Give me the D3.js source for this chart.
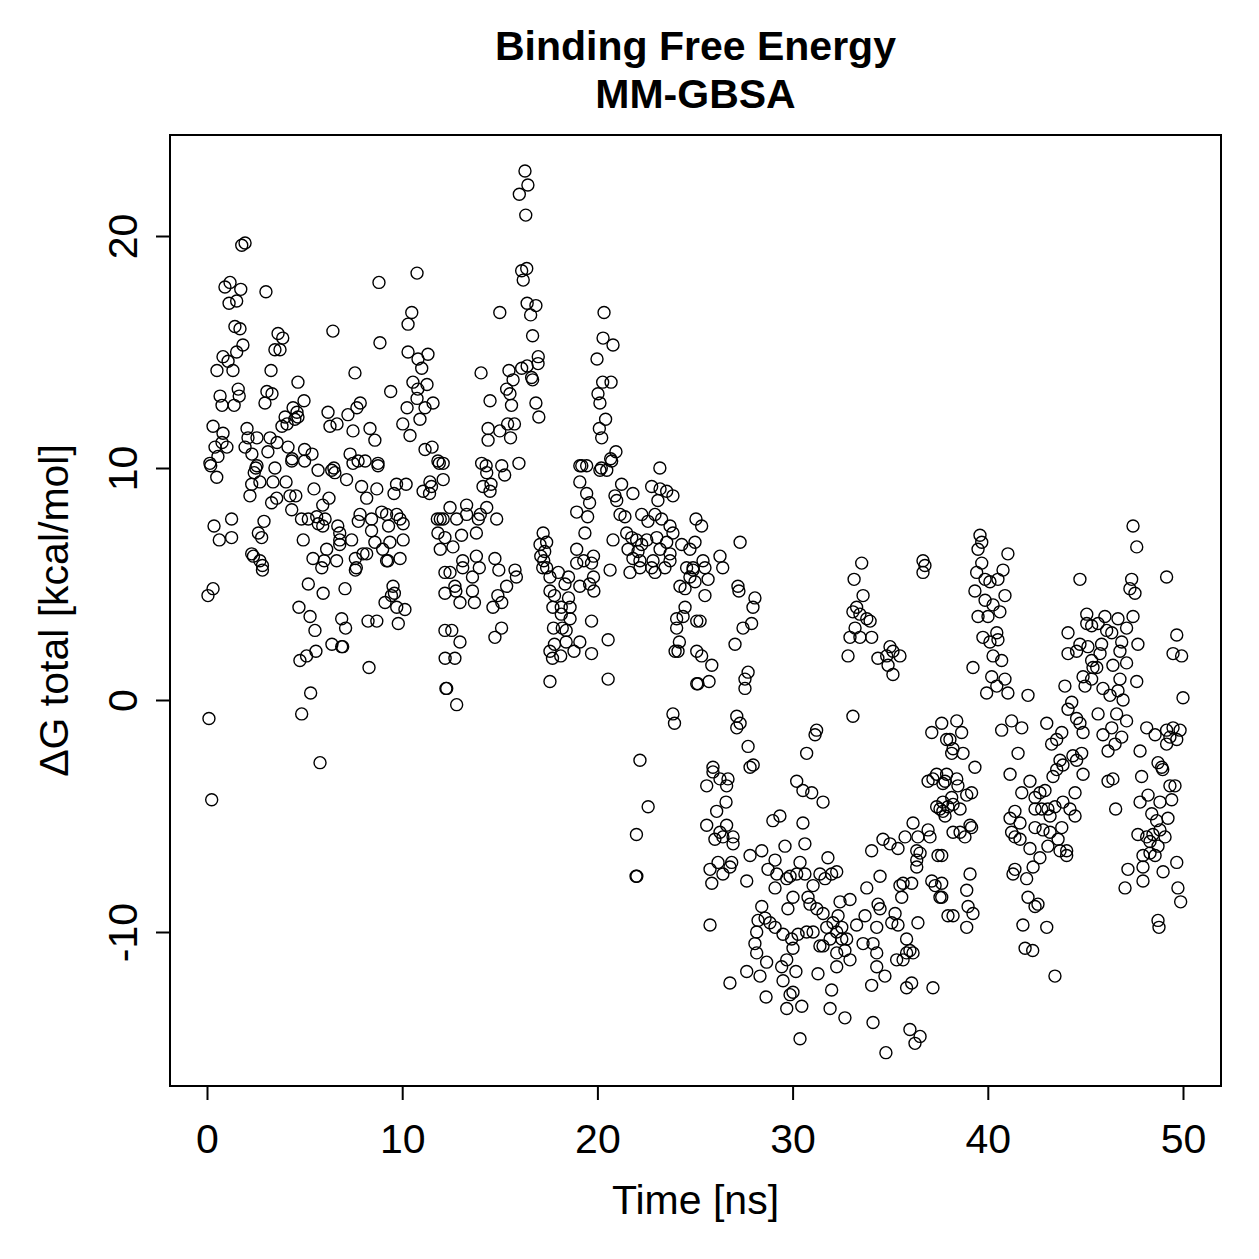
<!DOCTYPE html>
<html>
<head>
<meta charset="utf-8">
<title>Binding Free Energy MM-GBSA</title>
<style>
  body { margin: 0; background: #fff; }
  text { font-family: "Liberation Sans", Arial, Helvetica, sans-serif; }
</style>
</head>
<body>
<script src="https://d3js.org/d3.v7.min.js"></script>
<script>
// [time (ns), dG total (kcal/mol)] per frame, grouped by time window
var frames0to4 = [[0.05,4.5],[0.1,-0.8],[0.24,-4.3],[0.31,4.8],[0.19,10.1],[0.15,10.2],[0.31,11.8],[0.36,7.5],[0.5,9.6],[0.51,14.2],[0.41,10.9],[0.56,10.5],[0.63,6.9],[0.67,13.1],[0.77,12.7],[0.82,11.5],[0.82,14.8],[0.77,11.1],[0.92,17.8],[1.02,10.9],[1.08,14.6],[1.13,17.1],[1.18,18.0],[1.26,7.8],[1.26,7.0],[1.33,14.2],[1.39,12.7],[1.43,16.1],[1.52,17.2],[1.52,15.0],[1.6,13.4],[1.65,13.1],[1.69,16.0],[1.73,17.7],[1.78,19.6],[1.84,15.3],[1.95,19.7],[1.95,10.9],[2.05,11.7],[2.2,8.8],[2.29,9.3],[2.3,10.6],[2.29,6.3],[2.38,6.2],[2.5,10.0],[2.56,10.1],[2.42,9.8],[2.56,11.3],[2.1,11.3],[2.63,7.2],[2.71,9.4],[2.71,6.0],[2.8,7.0],[2.84,5.8],[2.84,5.6],[2.92,7.7],[2.97,12.8],[3.02,17.6],[3.07,13.3],[3.12,10.7],[3.23,11.3],[3.28,14.2],[3.31,8.5],[3.33,13.2],[3.38,9.4],[3.48,10.0],[3.48,15.1],[3.57,8.7],[3.59,11.1],[3.64,15.8],[3.74,15.1],[3.84,11.8],[3.88,15.6],[4.0,12.2],[4.05,9.4],[4.1,11.9]];
var frames4to8 = [[4.15,10.9],[4.25,8.8],[4.34,10.3],[4.34,8.2],[4.36,10.4],[4.41,12.6],[4.5,12.1],[4.55,8.8],[4.61,12.4],[4.66,13.7],[4.66,12.2],[4.71,4.0],[4.76,1.7],[4.84,7.8],[4.85,-0.6],[4.93,6.9],[4.97,12.9],[5.0,10.8],[5.0,10.3],[5.1,1.9],[5.19,7.8],[5.19,5.0],[5.28,3.6],[5.31,0.3],[5.38,10.6],[5.43,6.1],[5.48,9.1],[5.53,3.0],[5.58,2.1],[5.62,7.9],[5.69,9.9],[5.7,7.6],[5.79,-2.7],[5.88,5.7],[5.93,8.4],[5.95,4.6],[5.93,7.5],[6.0,6.0],[6.05,7.8],[6.13,6.5],[6.2,12.4],[6.25,8.7],[6.3,11.8],[6.39,9.9],[6.4,2.4],[6.45,15.9],[6.5,10.0],[6.55,9.8],[6.64,6.0],[6.66,11.9],[6.7,7.5],[6.8,7.2],[6.8,6.9],[6.8,6.7],[6.9,3.5],[6.9,2.3],[6.95,2.3],[7.07,4.8],[7.1,3.1],[7.15,9.5],[7.22,12.3],[7.33,10.6],[7.41,6.9],[7.48,11.6],[7.48,10.2],[7.58,14.1],[7.6,6.1],[7.65,5.7],[7.6,5.6],[7.68,12.6],[7.74,10.3],[7.84,8.0],[7.75,7.7],[7.85,12.8],[7.92,9.2]];
var frames8to12 = [[7.99,6.3],[8.1,10.3],[8.18,8.7],[8.18,6.3],[8.25,3.4],[8.3,1.4],[8.35,11.7],[8.43,7.8],[8.43,7.3],[8.6,11.2],[8.6,6.8],[8.7,9.1],[8.7,3.4],[8.76,10.2],[8.76,10.1],[8.81,18.0],[8.86,15.4],[8.95,8.1],[9.0,6.5],[9.12,4.2],[9.2,8.0],[9.27,6.0],[9.3,7.5],[9.2,6.0],[9.37,6.8],[9.41,13.3],[9.53,4.9],[9.58,8.9],[9.6,4.6],[9.45,4.5],[9.71,9.3],[9.72,8.0],[9.72,4.0],[9.8,3.3],[9.89,6.1],[9.89,7.8],[10.03,11.9],[10.05,7.6],[10.05,6.9],[10.14,3.9],[10.2,9.3],[10.25,12.6],[10.3,16.2],[10.3,15.0],[10.4,11.4],[10.49,16.7],[10.55,13.7],[10.76,18.4],[10.81,14.7],[10.8,13.4],[10.76,13.0],[10.91,12.1],[11.0,14.3],[11.07,9.0],[11.17,10.8],[11.27,13.6],[11.32,14.9],[11.17,12.6],[11.42,9.4],[11.5,9.2],[11.4,8.9],[11.53,10.9],[11.58,12.8],[11.8,7.8],[11.83,10.3],[11.83,7.2],[11.9,10.2],[11.95,7.8],[11.95,6.5]];
var frames12to16 = [[12.1,9.5],[12.1,10.2],[12.1,7.8],[12.19,7.0],[12.19,5.5],[12.19,4.6],[12.19,3.0],[12.2,1.8],[12.24,0.5],[12.28,0.5],[12.45,8.3],[12.45,5.5],[12.54,3.0],[12.6,6.6],[12.7,4.9],[12.7,1.8],[12.75,4.7],[12.79,7.8],[12.79,-0.2],[12.96,4.2],[12.96,2.5],[13.04,7.1],[13.1,6.0],[13.1,5.7],[13.3,8.4],[13.3,8.0],[13.6,5.3],[13.6,4.7],[13.7,4.2],[13.8,7.2],[13.8,6.2],[13.9,7.8],[13.95,5.7],[14.0,8.0],[14.04,14.1],[14.07,10.2],[14.14,9.2],[14.33,9.8],[14.3,10.1],[14.33,8.3],[14.4,11.7],[14.4,11.2],[14.5,12.9],[14.55,9.3],[14.5,9.0],[14.65,4.0],[14.75,6.1],[14.75,2.7],[14.84,7.8],[14.9,4.5],[14.95,5.6],[15.0,16.7],[15.0,11.6],[15.09,3.1],[15.1,10.1],[15.1,4.2],[15.25,9.7],[15.35,13.4],[15.35,4.9],[15.4,11.9],[15.47,14.2],[15.52,13.2],[15.55,11.3],[15.6,12.7],[15.68,13.8],[15.75,11.9],[15.78,5.6],[15.85,5.3],[15.98,10.2],[16.0,21.8]];
var frames16to20 = [[16.12,18.5],[16.12,14.3],[16.2,18.1],[16.29,22.8],[16.33,20.9],[16.38,18.6],[16.4,17.1],[16.44,22.2],[16.4,14.4],[16.58,16.6],[16.63,13.9],[16.68,13.8],[16.68,15.7],[16.85,17.0],[16.85,12.8],[16.96,14.5],[16.97,14.8],[17.0,12.2],[17.06,6.7],[17.1,6.2],[17.2,5.7],[17.22,7.2],[17.25,6.0],[17.3,6.4],[17.4,6.8],[17.4,5.7],[17.57,5.3],[17.57,4.7],[17.57,2.1],[17.57,0.8],[17.7,1.8],[17.72,4.0],[17.75,3.1],[17.8,4.5],[17.8,2.4],[18.0,5.5],[18.12,1.9],[18.15,4.0],[18.15,3.7],[18.2,3.1],[18.34,5.0],[18.4,3.0],[18.4,2.5],[18.52,5.3],[18.52,4.4],[18.6,4.0],[18.6,3.5],[18.8,2.1],[18.94,8.1],[18.94,6.5],[18.94,5.9],[19.1,10.1],[19.1,9.4],[19.1,4.9],[19.1,2.5],[19.2,10.1],[19.3,6.0],[19.36,7.2],[19.45,8.9],[19.45,10.1],[19.5,7.9],[19.6,8.5],[19.6,5.0],[19.7,5.9],[19.7,3.4],[19.7,2.0],[19.8,6.2],[19.8,5.3],[19.82,4.7],[19.98,14.7],[20.03,13.2],[20.13,12.8],[20.13,9.9],[20.1,11.7]];
var frames20to25 = [[20.22,11.3],[20.27,13.7],[20.29,15.6],[20.34,16.7],[20.42,12.1],[20.2,10.0],[20.48,9.9],[20.73,10.3],[20.55,2.6],[20.55,0.9],[20.65,5.6],[20.68,10.4],[20.7,13.7],[20.8,15.3],[20.8,6.9],[20.9,8.8],[20.95,10.7],[20.99,8.6],[21.16,8.0],[21.24,9.3],[21.41,7.9],[21.5,7.2],[21.57,6.5],[21.67,5.5],[21.76,7.0],[21.82,8.9],[21.82,6.1],[21.98,-7.6],[22.02,-7.6],[22.0,-5.8],[22.01,6.9],[22.08,6.4],[22.18,-2.6],[22.18,6.0],[22.18,5.7],[22.27,8.0],[22.27,6.7],[22.53,6.9],[22.6,-4.6],[22.59,7.7],[22.78,9.2],[22.78,5.7],[22.85,6.0],[22.95,8.0],[22.95,5.5],[23.04,7.0],[23.1,8.6],[23.2,10.0],[23.21,9.1],[23.21,6.5],[23.29,7.8],[23.46,5.7],[23.55,9.0],[23.55,6.8],[23.72,7.5],[23.72,6.3],[23.72,6.0],[23.87,8.8],[23.87,7.2],[23.87,-0.6],[23.95,-1.0],[24.06,3.5],[24.06,3.1],[24.23,4.9],[24.2,2.5],[24.32,6.7],[24.39,3.6],[24.49,4.8],[24.49,4.0],[23.98,2.1],[24.13,2.1],[24.57,5.7],[24.74,6.5],[24.74,5.3],[24.9,5.7],[25.0,6.8]];
var frames25to30 = [[25.05,7.8],[25.34,7.5],[25.09,3.4],[25.09,2.1],[25.09,0.7],[24.9,5.6],[25.0,5.1],[25.26,3.4],[25.34,1.9],[25.41,6.0],[25.51,5.7],[25.51,4.5],[25.67,5.2],[25.86,1.5],[25.15,0.7],[25.72,0.8],[25.77,-9.7],[25.92,-3.1],[25.92,-2.9],[25.6,-3.7],[25.6,-5.4],[25.77,-7.3],[25.86,-7.9],[26.02,-6.0],[26.11,-4.8],[26.18,-7.0],[26.28,-3.4],[26.28,-5.7],[26.43,-5.9],[26.28,6.2],[26.42,5.7],[26.43,-7.5],[26.59,-4.4],[26.62,-3.7],[26.62,-5.4],[26.69,-3.4],[26.79,-12.2],[26.88,-7.0],[26.79,-7.2],[26.95,-5.9],[26.95,-6.2],[27.05,2.4],[27.14,-0.7],[27.14,-1.2],[27.31,-1.0],[27.2,4.9],[27.25,4.7],[27.31,6.8],[27.46,3.1],[27.56,0.5],[27.56,0.9],[27.65,-11.7],[27.65,-7.8],[27.72,1.2],[27.72,-2.0],[27.82,-2.9],[27.82,-6.7],[27.98,-2.8],[27.97,4.0],[27.9,3.3],[28.07,4.4],[28.07,-10.5],[28.16,-10.9],[28.16,-10.0],[28.23,-9.5],[28.42,-6.5],[28.42,-8.9],[28.33,-11.9],[28.59,-9.4],[28.64,-12.8],[28.67,-11.3],[28.74,-7.3],[28.84,-9.6],[28.99,-5.2],[29.1,-9.8],[29.1,-6.9],[29.1,-8.1],[29.19,-7.5],[29.35,-5.0],[29.44,-11.5],[29.51,-12.1],[29.51,-10.1],[29.61,-6.3],[29.7,-7.7],[29.7,-11.2],[29.7,-13.3],[29.76,-9.0],[29.87,-7.6],[29.87,-12.7],[29.95,-10.3]];
var frames30to35 = [[30.02,-8.5],[30.02,-10.7],[30.02,-12.6],[30.17,-11.7],[30.21,-3.5],[30.21,-7.5],[30.28,-10.1],[30.38,-7.0],[30.38,-14.6],[30.47,-13.2],[30.53,-3.9],[30.53,-5.3],[30.63,-6.2],[30.63,-7.5],[30.72,-2.3],[30.72,-10.0],[30.79,-8.5],[30.89,-8.8],[30.98,-4.0],[31.05,-8.0],[31.05,-10.0],[31.15,-1.5],[31.23,-1.3],[31.24,-9.0],[31.3,-11.8],[31.4,-7.5],[31.4,-10.6],[31.56,-4.4],[31.56,-9.2],[31.56,-10.6],[31.66,-7.7],[31.75,-9.8],[31.81,-6.8],[31.92,-10.3],[31.92,-13.3],[32.0,-7.5],[32.0,-12.5],[32.07,-9.6],[32.26,-7.4],[32.26,-10.0],[32.26,-10.9],[32.26,-11.5],[32.33,-9.3],[32.43,-8.7],[32.52,-9.8],[32.52,-10.3],[32.68,-10.8],[32.68,-13.7],[32.77,-10.3],[32.84,1.9],[32.94,2.7],[32.94,-8.6],[32.94,-11.2],[33.09,-0.7],[33.15,5.2],[33.28,4.0],[33.09,3.8],[33.2,3.1],[33.28,-9.7],[33.45,3.7],[33.54,5.9],[33.61,4.5],[33.45,2.7],[33.61,-10.5],[33.71,-9.3],[33.8,3.5],[33.8,-8.1],[33.97,3.4],[34.05,2.7],[34.05,-6.5],[34.05,-12.3],[34.12,-10.5],[34.12,-13.9],[34.31,-9.8],[34.31,-10.9],[34.31,-11.5],[34.37,1.8],[34.38,-8.8],[34.48,-7.6],[34.48,-9.0],[34.63,-6.0],[34.73,-11.9],[34.78,-15.2],[34.82,1.9],[34.89,1.5],[34.99,2.3],[34.99,-6.2]];
var frames35to40 = [[35.08,-9.6],[35.14,2.1],[35.14,1.1],[35.25,-9.2],[35.33,-11.2],[35.4,-6.4],[35.4,-9.7],[35.5,1.9],[35.5,-8.0],[35.59,-8.5],[35.66,-7.9],[35.66,-11.2],[35.76,-5.9],[35.84,-10.3],[35.84,-10.9],[35.84,-12.4],[36.01,-10.8],[36.01,-14.2],[36.1,-7.9],[36.1,-12.2],[36.17,-5.3],[36.17,-10.9],[36.27,-14.8],[36.36,-6.5],[36.36,-6.9],[36.36,-7.2],[36.42,-5.9],[36.42,-9.6],[36.53,-6.6],[36.53,-14.5],[36.68,6.0],[36.78,5.8],[36.68,5.5],[36.94,-3.5],[36.94,-5.6],[37.04,-5.9],[37.13,-1.4],[37.13,-7.8],[37.19,-3.4],[37.19,-12.4],[37.3,-8.0],[37.38,-3.2],[37.38,-4.6],[37.45,-6.7],[37.55,-4.7],[37.55,-8.5],[37.64,-1.0],[37.64,-6.7],[37.64,-7.9],[37.64,-8.5],[37.7,-3.6],[37.7,-4.4],[37.7,-4.8],[37.81,-3.5],[37.81,-5.0],[37.89,-1.7],[37.89,-3.2],[37.96,-4.6],[37.96,-9.3],[38.06,-1.7],[38.15,-2.3],[38.15,-4.2],[38.22,-2.1],[38.22,-4.5],[38.22,-5.7],[38.22,-9.3],[38.41,-0.9],[38.41,-3.4],[38.47,-3.7],[38.58,-4.7],[38.58,-5.7],[38.66,-1.4],[38.73,-2.3],[38.83,-5.9],[38.92,-4.1],[38.92,-8.2],[38.92,-9.8],[38.99,-8.9],[39.09,-5.4],[39.09,-7.5],[39.17,-4.0],[39.17,-5.5],[39.24,-9.2],[39.24,1.4],[39.34,-2.9],[39.34,4.7],[39.43,5.5],[39.5,6.5],[39.5,3.6],[39.6,7.1],[39.69,6.8],[39.69,5.9],[39.75,2.7],[39.86,5.2],[39.86,4.3],[39.94,0.3]];
var frames40to45 = [[40.01,3.6],[40.11,5.1],[40.11,2.5],[40.2,1.0],[40.27,4.1],[40.27,1.9],[40.46,2.9],[40.46,0.6],[40.52,5.2],[40.52,2.6],[40.62,3.8],[40.71,1.7],[40.71,-1.3],[40.78,5.6],[40.88,4.5],[40.88,0.9],[41.03,6.3],[41.03,0.3],[41.14,-3.2],[41.14,-5.1],[41.22,-0.9],[41.22,-5.7],[41.29,-7.5],[41.39,-4.8],[41.39,-5.9],[41.39,-7.3],[41.55,-2.3],[41.65,-5.3],[41.65,-6.0],[41.74,-1.2],[41.74,-4.0],[41.8,-9.7],[41.91,-10.7],[41.99,-7.7],[42.06,0.2],[42.06,-8.5],[42.16,-3.5],[42.16,-6.4],[42.3,-10.8],[42.32,-7.2],[42.42,-4.2],[42.42,-4.7],[42.42,-5.5],[42.42,-8.9],[42.57,-8.8],[42.67,-4.0],[42.67,-6.8],[42.76,-4.7],[42.83,-5.6],[42.93,-3.9],[43.02,-1.0],[43.02,-9.8],[43.08,-4.7],[43.08,-6.3],[43.19,-5.0],[43.19,-5.7],[43.27,-1.9],[43.34,-3.3],[43.44,-4.6],[43.44,-11.9],[43.53,-1.7],[43.53,-3.0],[43.6,-6.0],[43.7,-2.6],[43.7,-6.5],[43.79,-1.4],[43.79,-5.5],[43.85,-2.8],[43.85,-4.4],[43.95,0.6],[44.04,-6.5],[44.04,-6.7],[44.11,2.9],[44.11,2.0],[44.11,-0.4],[44.21,-4.7],[44.3,-0.1],[44.36,-2.4],[44.47,-4.0],[44.47,-5.0],[44.55,2.1],[44.55,-0.8],[44.55,-2.6],[44.72,5.2],[44.72,2.4],[44.72,-1.0],[44.81,-2.3],[44.88,1.0],[44.88,-1.4],[44.88,-3.2],[44.98,0.6]];
var frames45to50 = [[45.07,3.7],[45.07,3.3],[45.13,2.3],[45.32,3.2],[45.32,1.7],[45.32,0.9],[45.39,1.4],[45.58,1.4],[45.65,3.3],[45.65,-0.6],[45.75,2.0],[45.83,2.4],[45.9,0.5],[45.9,-1.5],[46.0,3.6],[46.09,3.0],[46.16,-2.2],[46.16,-3.5],[46.26,0.2],[46.35,2.9],[46.35,-1.2],[46.41,1.5],[46.41,-3.4],[46.52,-1.9],[46.55,-4.7],[46.6,-0.6],[46.67,3.5],[46.67,0.4],[46.77,2.1],[46.77,0.9],[46.86,2.5],[46.86,-1.6],[46.93,0.0],[47.03,-8.1],[47.11,3.1],[47.11,1.6],[47.11,-0.9],[47.18,-7.3],[47.28,4.8],[47.37,5.2],[47.44,7.5],[47.44,3.6],[47.54,4.6],[47.63,6.6],[47.63,0.8],[47.69,2.4],[47.69,-5.8],[47.8,-2.2],[47.8,-4.4],[47.88,-3.3],[47.95,-6.7],[47.95,-7.2],[47.95,-7.8],[48.14,-1.2],[48.14,-5.9],[48.21,-4.1],[48.31,-6.1],[48.31,-6.6],[48.4,-4.9],[48.46,-5.8],[48.57,-1.5],[48.57,-6.7],[48.65,-5.2],[48.72,-2.7],[48.72,-6.3],[48.72,-9.5],[48.77,-9.8],[48.82,-4.4],[48.82,-5.6],[48.91,-2.9],[48.96,-3.0],[48.98,-7.4],[49.08,-5.9],[49.16,5.3],[49.16,-1.3],[49.16,-1.9],[49.23,-5.1],[49.33,-1.6],[49.33,-3.7],[49.42,-4.3],[49.49,2.0],[49.49,-1.2],[49.59,-3.7],[49.68,2.8],[49.68,-1.7],[49.68,-7.0],[49.74,-8.1],[49.85,-1.3],[49.88,-8.7],[49.93,1.9],[50.0,0.1]];

var xTicks = [0, 10, 20, 30, 40, 50];
var yTicks = [-10, 0, 10, 20];
var titleLines = ["Binding Free Energy", "MM-GBSA"];
var xLabel = "Time [ns]";
var yLabel = "\u0394G total [kcal/mol]";

var width = 1259, height = 1259;
var box = { left: 170, right: 1221, top: 135, bottom: 1086 };
var fontSize = 41;

var frames = [].concat(frames0to4, frames4to8, frames8to12, frames12to16, frames16to20,
  frames20to25, frames25to30, frames30to35, frames35to40, frames40to45, frames45to50);

var svg = d3.select("body").append("svg")
  .attr("width", width).attr("height", height);

var x = d3.scaleLinear().domain([0, 50]).range([207, 1183]);
var y = d3.scaleLinear().domain([-10, 20]).range([932, 236]);

// plain hyphen for negatives, like R
var tickFmt = function(d) { return String(d); };

// points
svg.append("g").selectAll("circle")
  .data(frames)
  .join("circle")
  .attr("cx", function(d) { return x(d[0]); })
  .attr("cy", function(d) { return y(d[1]); })
  .attr("r", 6)
  .attr("fill", "none")
  .attr("stroke", "#000")
  .attr("stroke-width", 1.4);

// frame
svg.append("rect")
  .attr("x", box.left).attr("y", box.top)
  .attr("width", box.right - box.left).attr("height", box.bottom - box.top)
  .attr("fill", "none").attr("stroke", "#000").attr("stroke-width", 2);

// x axis
var gx = svg.append("g")
  .attr("transform", "translate(0," + box.bottom + ")")
  .call(d3.axisBottom(x).tickValues(xTicks).tickSize(14).tickFormat(tickFmt));
gx.select(".domain").remove();
gx.selectAll("line").attr("stroke-width", 2);
gx.selectAll("text").attr("y", 67).attr("dy", 0)
  .attr("font-size", fontSize).attr("fill", "#000")
  .attr("font-family", "Liberation Sans, Arial, sans-serif");

// y axis, labels turned like R's default las = 0
var gy = svg.append("g")
  .attr("transform", "translate(" + box.left + ",0)")
  .call(d3.axisLeft(y).tickValues(yTicks).tickSize(14).tickFormat(tickFmt));
gy.select(".domain").remove();
gy.selectAll("line").attr("stroke-width", 2);
gy.selectAll("text")
  .attr("x", 0).attr("y", -33).attr("dy", 0)
  .attr("text-anchor", "middle")
  .attr("transform", "rotate(-90)")
  .attr("font-size", fontSize).attr("fill", "#000")
  .attr("font-family", "Liberation Sans, Arial, sans-serif");

// titles
var cx = (box.left + box.right) / 2;
svg.append("g").selectAll("text")
  .data(titleLines)
  .join("text")
  .attr("x", cx)
  .attr("y", function(d, i) { return 60 + i * 48; })
  .attr("text-anchor", "middle")
  .attr("font-weight", "bold")
  .attr("font-size", fontSize)
  .text(function(d) { return d; });

svg.append("text")
  .attr("x", cx).attr("y", 1214)
  .attr("text-anchor", "middle")
  .attr("font-size", fontSize)
  .text(xLabel);

svg.append("text")
  .attr("transform", "translate(68," + ((box.top + box.bottom) / 2) + ") rotate(-90)")
  .attr("text-anchor", "middle")
  .attr("font-size", fontSize)
  .text(yLabel);
</script>
</body>
</html>
